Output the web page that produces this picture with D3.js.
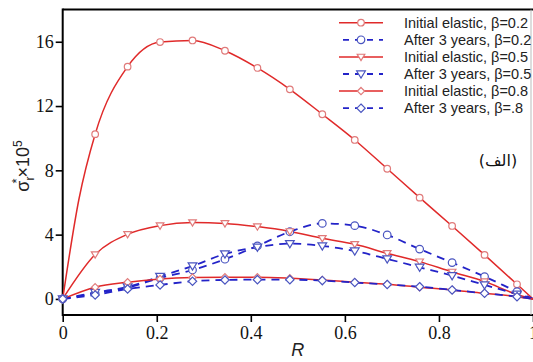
<!DOCTYPE html>
<html>
<head>
<meta charset="utf-8">
<script src="https://cdn.jsdelivr.net/npm/d3@7"></script>
<style>
  body { margin: 0; background: #fff; }
  svg { display: block; }
</style>
</head>
<body>
<svg id="chart" width="533" height="362"></svg>
<script>
// R positions of the plotted points (every 2nd point carries a marker, last point has none)
const rVals = [0, 0.069, 0.138, 0.207, 0.276, 0.345, 0.414, 0.483, 0.552, 0.621, 0.690, 0.759, 0.828, 0.897, 0.966, 1];

const init02 = [0, 10.25, 14.45, 15.98, 16.08, 15.44, 14.37, 13.04, 11.49, 9.89, 8.1, 6.3, 4.54, 2.74, 0.91, 0];
const after02 = [0, 0.35, 0.7, 1.3, 1.8, 2.47, 3.3, 4.18, 4.7, 4.56, 3.98, 3.1, 2.26, 1.39, 0.45, 0];
const init05 = [0, 2.76, 4.02, 4.56, 4.75, 4.7, 4.5, 4.2, 3.77, 3.4, 2.84, 2.32, 1.68, 1.08, 0.28, 0];
const after05 = [0, 0.4, 0.75, 1.4, 2.05, 2.8, 3.22, 3.44, 3.3, 2.98, 2.49, 1.97, 1.45, 0.87, 0.3, 0];
const init08 = [0, 0.73, 1.04, 1.24, 1.33, 1.35, 1.35, 1.29, 1.18, 1.04, 0.91, 0.73, 0.56, 0.35, 0.14, 0];
const after08 = [0, 0.25, 0.62, 0.87, 1.1, 1.18, 1.2, 1.2, 1.14, 1.02, 0.9, 0.76, 0.56, 0.35, 0.14, 0];

// extra unmarked point on the steep rise of the β=0.2 elastic curve
const init02Start = [[0.0345, 6.2]];

const legendLabels = [
  'Initial elastic, β=0.2', 'After 3 years, β=0.2',
  'Initial elastic, β=0.5', 'After 3 years, β=0.5',
  'Initial elastic, β=0.8', 'After 3 years, β=.8'
];
const xTicks = [0, 0.2, 0.4, 0.6, 0.8, 1];
const yTicks = [0, 4, 8, 12, 16];

const RED = '#e02a2a';
const RED_MARK = '#e07a7a';
const BLUE = '#2323c8';
const BLUE_MARK = '#4a55c0';

const series = [
  { vals: init02, extra: init02Start, dashed: false, marker: 'circle' },
  { vals: after02, dashed: true, marker: 'circle' },
  { vals: init05, dashed: false, marker: 'triangle' },
  { vals: after05, dashed: true, marker: 'triangle' },
  { vals: init08, dashed: false, marker: 'diamond' },
  { vals: after08, dashed: true, marker: 'diamond' }
];

const margin = { top: 9.6, right: 0, bottom: 47, left: 62.7 };
const W = 533, H = 362;

const svg = d3.select('#chart');

const xScale = d3.scaleLinear().domain([0, 1]).range([margin.left, 533]);
const yScale = d3.scaleLinear().domain([-1, 18]).range([H - margin.bottom, margin.top]);

// axes
const yAxis = d3.axisLeft(yScale).tickValues(yTicks).tickSize(7).tickPadding(2);
const xAxis = d3.axisBottom(xScale).tickValues(xTicks).tickSize(7).tickPadding(4)
  .tickFormat(d => d === 0 ? '0' : d === 1 ? '1' : d3.format('.1f')(d));

const yAxisG = svg.append('g')
  .attr('transform', `translate(${margin.left},0)`)
  .call(yAxis);
const xAxisG = svg.append('g')
  .attr('transform', `translate(0,${H - margin.bottom})`)
  .call(xAxis);

[yAxisG, xAxisG].forEach(g => {
  g.select('.domain').remove();
  g.selectAll('.tick line').attr('stroke', '#000').attr('stroke-width', 1.6);
  g.selectAll('.tick text')
    .attr('fill', '#111')
    .style('font-family', '"Liberation Serif", "Times New Roman", serif')
    .style('font-size', '18px');
});

// frame
const frame = svg.append('g').attr('fill', 'none');
frame.append('line')
  .attr('x1', margin.left).attr('x2', margin.left)
  .attr('y1', margin.top - 1).attr('y2', H - margin.bottom + 1)
  .attr('stroke', '#000').attr('stroke-width', 2);
frame.append('line')
  .attr('x1', margin.left).attr('x2', W)
  .attr('y1', margin.top).attr('y2', margin.top)
  .attr('stroke', '#000').attr('stroke-width', 2);
frame.append('line')
  .attr('x1', margin.left).attr('x2', W)
  .attr('y1', H - margin.bottom).attr('y2', H - margin.bottom)
  .attr('stroke', '#000').attr('stroke-width', 2);
frame.append('line')
  .attr('x1', 531).attr('x2', 531)
  .attr('y1', margin.top).attr('y2', H - margin.bottom)
  .attr('stroke', '#bbb').attr('stroke-width', 1);

// markers
function drawMarker(g, type, cx, cy, color, size) {
  if (type === 'circle') {
    g.append('circle').attr('cx', cx).attr('cy', cy).attr('r', size)
      .attr('fill', '#fff').attr('stroke', color).attr('stroke-width', 1.2);
  } else if (type === 'triangle') {
    const s = size * 1.15;
    g.append('path')
      .attr('d', `M${cx - s},${cy - s * 0.7}L${cx + s},${cy - s * 0.7}L${cx},${cy + s * 0.95}Z`)
      .attr('fill', '#fff').attr('stroke', color).attr('stroke-width', 1.2);
  } else {
    const s = size * 1.1;
    g.append('path')
      .attr('d', `M${cx},${cy - s}L${cx + s},${cy}L${cx},${cy + s}L${cx - s},${cy}Z`)
      .attr('fill', '#fff').attr('stroke', color).attr('stroke-width', 1.2);
  }
}

const line = d3.line()
  .x(d => xScale(d[0]))
  .y(d => yScale(d[1]))
  .curve(d3.curveMonotoneX);

const plot = svg.append('g');

series.forEach(s => {
  let pts = rVals.map((r, i) => [r, s.vals[i]]);
  if (s.extra) pts = pts.concat(s.extra).sort((a, b) => a[0] - b[0]);
  plot.append('path')
    .attr('d', line(pts))
    .attr('fill', 'none')
    .attr('stroke', s.dashed ? BLUE : RED)
    .attr('stroke-width', s.dashed ? 1.8 : 1.5)
    .attr('stroke-dasharray', s.dashed ? '8,6' : null);
});

series.forEach(s => {
  const g = plot.append('g');
  rVals.slice(0, rVals.length - 1).forEach((r, i) => {
    drawMarker(g, s.marker, xScale(r), yScale(s.vals[i]),
      s.dashed ? BLUE_MARK : RED_MARK, s.dashed ? 3.8 : 3.3);
  });
});

// legend
const legend = svg.append('g').attr('transform', 'translate(339,22.7)');
legendLabels.forEach((label, i) => {
  const s = series[i];
  const row = legend.append('g').attr('transform', `translate(0,${i * 17.1})`);
  row.append('line')
    .attr('x1', s.dashed ? 4 : 0).attr('x2', 44)
    .attr('y1', 0).attr('y2', 0)
    .attr('stroke', s.dashed ? BLUE : RED)
    .attr('stroke-width', s.dashed ? 1.8 : 1.5)
    .attr('stroke-dasharray', s.dashed ? '6,6' : null);
  drawMarker(row, s.marker, 22, 0, s.dashed ? BLUE_MARK : RED_MARK, s.dashed ? 3.8 : 3.3);
  row.append('text')
    .attr('x', 65).attr('y', 5)
    .attr('fill', '#222')
    .style('font-family', '"Liberation Sans", Arial, sans-serif')
    .style('font-size', '14.5px')
    .text(label);
});

// axis titles
const yTitle = svg.append('text')
  .attr('transform', 'translate(29,166) rotate(-90)')
  .attr('text-anchor', 'middle')
  .attr('fill', '#222')
  .style('font-family', '"Liberation Sans", Arial, sans-serif')
  .style('font-size', '18px');
yTitle.append('tspan').text('σ');
yTitle.append('tspan').attr('dy', 5).style('font-size', '12px').text('r');
yTitle.append('tspan').attr('dx', -7).attr('dy', -13).style('font-size', '13px').text('*');
yTitle.append('tspan').attr('dx', 1).attr('dy', 8).text('×10');
yTitle.append('tspan').attr('dy', -7).style('font-size', '12px').text('5');

svg.append('text')
  .attr('x', xScale(0.5)).attr('y', 356)
  .attr('text-anchor', 'middle')
  .attr('fill', '#222')
  .style('font-family', '"Liberation Sans", Arial, sans-serif')
  .style('font-size', '18px')
  .style('font-style', 'italic')
  .text('R');

svg.append('text')
  .attr('x', 498).attr('y', 166)
  .attr('text-anchor', 'middle')
  .attr('fill', '#111')
  .style('font-family', '"DejaVu Sans", sans-serif')
  .style('font-size', '16px')
  .text('(الف)');
</script>
</body>
</html>
